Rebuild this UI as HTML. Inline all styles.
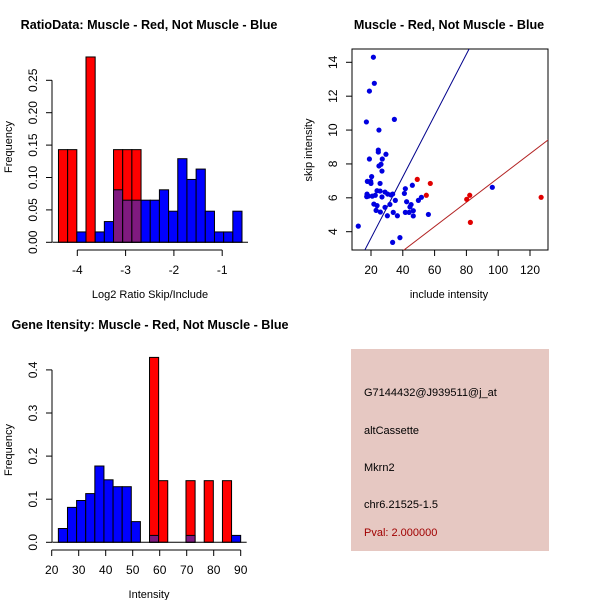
<!DOCTYPE html>
<html><head><meta charset="utf-8"><style>
body{margin:0;background:#fff}
svg{display:block;font-family:"Liberation Sans",Arial,sans-serif}
</style></head><body>
<svg id="s" width="600" height="600" xmlns="http://www.w3.org/2000/svg">
<text x="149" y="29" font-size="12.6" font-weight="bold" text-anchor="middle">RatioData: Muscle - Red, Not Muscle - Blue</text>
<text x="449" y="29" font-size="12.6" font-weight="bold" text-anchor="middle">Muscle - Red, Not Muscle - Blue</text>
<text x="150" y="329" font-size="12.6" font-weight="bold" text-anchor="middle">Gene Itensity: Muscle - Red, Not Muscle - Blue</text>
<text x="150" y="298" font-size="11" text-anchor="middle">Log2 Ratio Skip/Include</text>
<text x="12" y="147" font-size="11" text-anchor="middle" transform="rotate(-90 12 147)">Frequency</text>
<text x="449" y="298" font-size="11" text-anchor="middle">include intensity</text>
<text x="312" y="150" font-size="11" text-anchor="middle" transform="rotate(-90 312 150)">skip intensity</text>
<text x="149" y="598" font-size="11" text-anchor="middle">Intensity</text>
<text x="12" y="450" font-size="11" text-anchor="middle" transform="rotate(-90 12 450)">Frequency</text>
<g>
<rect x="351" y="349" width="198" height="202" fill="#e6c8c2"/>
<text x="364" y="396" font-size="11">G7144432@J939511@j_at</text>
<text x="364" y="434" font-size="11">altCassette</text>
<text x="364" y="471" font-size="11">Mkrn2</text>
<text x="364" y="508" font-size="11">chr6.21525-1.5</text>
<text x="364" y="536" font-size="11" fill="#a00000">Pval: 2.000000</text>
</g>
</svg>
<script>
// Ratio histogram data
const ratioStart = -4.39;
const ratioBinWidth = 0.19;
const ratioRed  = [0.143,0.143,0,0.286,0,0,0.143,0.143,0.143,0,0,0,0,0,0,0,0,0,0,0];
const ratioBlue = [0,0,0.016,0,0.016,0.032,0.081,0.065,0.065,0.065,0.065,0.081,0.048,0.129,0.097,0.113,0.048,0.016,0.016,0.048];
const ratioXTicks = [-4,-3,-2,-1];
const ratioYTicks = [0,0.05,0.10,0.15,0.20,0.25];
const ratioYLabels = ["0.00","0.05","0.10","0.15","0.20","0.25"];
// Intensity histogram data
const intStart = 22.47;
const intBinWidth = 3.376;
const intRed  = [0,0,0,0,0,0,0,0,0,0,0.429,0.143,0,0,0.143,0,0.143,0,0.143,0];
const intBlue = [0.032,0.081,0.097,0.113,0.177,0.145,0.129,0.129,0.048,0,0.016,0,0,0,0.016,0,0,0,0,0.016];
const intXTicks = [20,30,40,50,60,70,80,90];
const intYTicks = [0,0.1,0.2,0.3,0.4];
const intYLabels = ["0.0","0.1","0.2","0.3","0.4"];
// Scatter data
const blueX = [12,21.5,22.1,19,17.1,34.7,25,24.6,24.6,29.4,19,27.1,26.3,25,26.9,20.4,17.7,19.8,20,25.7,23.8,25.7,28.8,17.5,18.3,20.8,22.7,30.5,32.6,33.6,26.9,17.3,21.8,23.8,28.8,23.2,25.9,31.9,30.3,35.3,34,36.6,33.6,38.2,41.6,41,46,42.4,41.6,44,45.2,44.5,46.6,46.6,49.8,51.7,56.1,96.3];
const blueY = [4.33,14.3,12.76,12.3,10.48,10.63,10,8.82,8.7,8.57,8.29,8.29,7.98,7.88,7.58,7.25,6.97,6.97,6.85,6.85,6.42,6.4,6.34,6.22,6.1,6.1,6.15,6.22,6.17,6.22,6.05,6.07,5.63,5.54,5.44,5.26,5.16,5.61,4.94,5.85,5.14,4.94,3.37,3.65,6.54,6.26,6.74,5.77,5.14,5.14,5.6,5.46,5.24,4.93,5.85,6.03,5.02,6.62];
const redX = [49.1,57.3,54.8,80.2,82.1,82.5,127];
const redY = [7.09,6.85,6.15,5.91,6.15,4.55,6.03];
const blueSlope = 0.181;
const redSlope = 0.0717;
const scXTicks = [20,40,60,80,100,120];
const scYTicks = [4,6,8,10,12,14];

const svg = document.getElementById('s');
const NS = 'http://www.w3.org/2000/svg';
function mk(tag, attrs, parent){
  const e = document.createElementNS(NS, tag);
  for (const k in attrs) e.setAttribute(k, attrs[k]);
  (parent||svg).appendChild(e);
  return e;
}

function hist(g, start, bw, red, blue, sx, sy){
  for (let i=0;i<red.length;i++){
    const x0 = sx(start+i*bw), x1 = sx(start+(i+1)*bw);
    if (red[i]>0){
      const r = mk('rect',{x:x0,y:sy(red[i]),width:x1-x0,height:sy(0)-sy(red[i]),fill:'#ff0000',stroke:'#000','stroke-width':1},g);
      
      
    }
    if (blue[i]>0){
      const overlap = red[i]>0;
      const top = overlap ? Math.min(red[i], blue[i]) : blue[i];
      if (!overlap || blue[i] > red[i]){
        const b = mk('rect',{x:x0,y:sy(blue[i]),width:x1-x0,height:sy(0)-sy(blue[i]),fill:'#0000ff',stroke:'#000','stroke-width':1},g);
        
        
      }
      if (overlap){
        const p = mk('rect',{x:x0,y:sy(top),width:x1-x0,height:sy(0)-sy(top),fill:'#7f1a7f',stroke:'#000','stroke-width':1},g);
        
        
      }
    }
  }
}
function xaxis(g, ticks, labels, sx, y, ty){
  mk('line',{x1:sx(ticks[0]),x2:sx(ticks[ticks.length-1]),y1:y,y2:y,stroke:'#000'},g);
  ticks.forEach((t,i)=>{
    mk('line',{x1:sx(t),x2:sx(t),y1:y,y2:y+6,stroke:'#000'},g);
    const tx = mk('text',{x:sx(t),y:ty,'font-size':12,'text-anchor':'middle'},g);
    tx.textContent = labels[i];
  });
}
function yaxis(g, ticks, labels, sy, x){
  mk('line',{x1:x,x2:x,y1:sy(ticks[0]),y2:sy(ticks[ticks.length-1]),stroke:'#000'},g);
  ticks.forEach((t,i)=>{
    mk('line',{x1:x-6,x2:x,y1:sy(t),y2:sy(t),stroke:'#000'},g);
    const tx = mk('text',{x:x-15,y:sy(t),'font-size':12,'text-anchor':'middle',transform:`rotate(-90 ${x-15} ${sy(t)})`},g);
    tx.textContent = labels[i];
  });
}

// Ratio histogram
{
  const g = mk('g',{});
  
  
  const sx = v => 77.3 + (v+4)*48.3;
  const sy = v => 242.3 - v*648;
  hist(g, ratioStart, ratioBinWidth, ratioRed, ratioBlue, sx, sy);
  mk('line',{x1:sx(ratioStart)-6,x2:sx(ratioStart+20*ratioBinWidth)+6,y1:sy(0),y2:sy(0),stroke:'#000'},g);
  xaxis(g, ratioXTicks, ratioXTicks.map(String), sx, 250, 274);
  yaxis(g, ratioYTicks, ratioYLabels, sy, 52);
}
// Intensity histogram
{
  const g = mk('g',{});
  
  
  const sx = v => 51.7 + (v-20)*2.7;
  const sy = v => 542.3 - v*431;
  hist(g, intStart, intBinWidth, intRed, intBlue, sx, sy);
  mk('line',{x1:sx(intStart)-6,x2:sx(intStart+20*intBinWidth)+6,y1:sy(0),y2:sy(0),stroke:'#000'},g);
  xaxis(g, intXTicks, intXTicks.map(String), sx, 550, 574);
  yaxis(g, intYTicks, intYLabels, sy, 52);
}
// Scatter
{
  const g = mk('g',{});
  
  
  const sx = v => 371 + (v-20)*1.59;
  const sy = v => 231.7 - (v-4)*16.94;
  const cp = mk('clipPath',{id:'cp'},g);
  mk('rect',{x:352,y:49,width:196,height:201},cp);
  mk('rect',{x:352,y:49,width:196,height:201,fill:'none',stroke:'#000'},g);
  const lb = mk('line',{x1:sx(0),y1:sy(0),x2:sx(140),y2:sy(140*blueSlope),stroke:'#00008b','clip-path':'url(#cp)'},g);
  
  
  const lr = mk('line',{x1:sx(0),y1:sy(0),x2:sx(140),y2:sy(140*redSlope),stroke:'#b22222','clip-path':'url(#cp)'},g);
  
  
  blueX.forEach((x,i)=>{
    const c = mk('circle',{cx:sx(x),cy:sy(blueY[i]),r:2.6,fill:'#0000e0'},g);
    
    
  });
  redX.forEach((x,i)=>{
    const c = mk('circle',{cx:sx(x),cy:sy(redY[i]),r:2.6,fill:'#e00000'},g);
    
    
  });
  scXTicks.forEach(t=>{
    mk('line',{x1:sx(t),x2:sx(t),y1:250,y2:256,stroke:'#000'},g);
    const tx = mk('text',{x:sx(t),y:274,'font-size':12,'text-anchor':'middle'},g);
    tx.textContent = t;
  });
  scYTicks.forEach(t=>{
    mk('line',{x1:346,x2:352,y1:sy(t),y2:sy(t),stroke:'#000'},g);
    const tx = mk('text',{x:337,y:sy(t),'font-size':12,'text-anchor':'middle',transform:`rotate(-90 337 ${sy(t)})`},g);
    tx.textContent = t;
  });
}
</script>
</body></html>
